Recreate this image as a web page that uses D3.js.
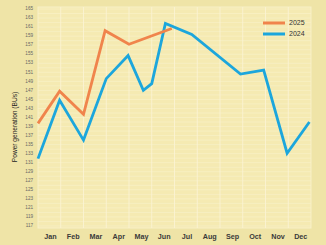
<!DOCTYPE html>
<html>
<head>
<meta charset="utf-8">
<script src="https://cdn.jsdelivr.net/npm/d3@7"></script>
<style>
  body { margin: 0; background: #efe4a7; }
  svg { display: block; }
  text { font-family: "Liberation Sans", Arial, sans-serif; }
</style>
</head>
<body>
<script>
// data
var months = ["Jan", "Feb", "Mar", "Apr", "May", "Jun", "Jul", "Aug", "Sep", "Oct", "Nov", "Dec"];
var yTicks = [117, 119, 121, 123, 125, 127, 129, 131, 133, 135, 137, 139, 141, 143, 145, 147, 149, 151, 153, 155, 157, 159, 161, 163, 165];

// x in month units (0 = start of Jan, 12 = end of Dec)
var x2024 = [0, 0.95, 2, 3, 3.96, 4.63, 5, 5.6, 6.76, 8.9, 9.92, 10.95, 11.93];
var v2024 = [131.9, 144.8, 136.0, 149.6, 154.7, 147.0, 148.5, 161.8, 159.4, 150.6, 151.5, 133.1, 140.0];
var x2025 = [0, 0.95, 2, 2.95, 4, 5.88];
var v2025 = [139.7, 146.8, 141.7, 160.2, 157.2, 160.7];

var legend = [["2025", "#f0844c"], ["2024", "#1ca6dc"]];

var width = 326, height = 245;
var margin = { left: 38, right: 15, top: 7, bottom: 17 };
var pw = width - margin.left - margin.right;
var ph = height - margin.top - margin.bottom;

var svg = d3.select("body").append("svg").attr("width", width).attr("height", height);

var x = d3.scaleLinear().domain([0, 12]).range([0, pw]);
var y = d3.scaleLinear().domain([116.55, 165.45]).range([ph, 0]);

var g = svg.append("g").attr("transform", "translate(" + margin.left + "," + margin.top + ")");

g.append("rect").attr("width", pw).attr("height", ph).attr("fill", "#f5eab2")
    .attr("stroke", "#f8f0c8").attr("stroke-width", 1);

// horizontal grid every unit
g.append("g").selectAll("line").data(d3.range(117, 166)).enter().append("line")
    .attr("x1", 0).attr("x2", pw)
    .attr("y1", function (d) { return y(d); }).attr("y2", function (d) { return y(d); })
    .attr("stroke", "#f9f1cb").attr("stroke-width", 0.6);

// vertical grid on month boundaries
g.append("g").selectAll("line").data(d3.range(1, 12)).enter().append("line")
    .attr("x1", function (d) { return x(d); }).attr("x2", function (d) { return x(d); })
    .attr("y1", 0).attr("y2", ph)
    .attr("stroke", "#faf3d2").attr("stroke-width", 0.9);

// y axis labels
g.append("g").selectAll("text").data(yTicks).enter().append("text")
    .attr("x", -5).attr("y", function (d) { return y(d); })
    .attr("text-anchor", "end").attr("dominant-baseline", "middle")
    .attr("font-size", 4.6).attr("fill", "#666")
    .text(function (d) { return d; });

// month labels
g.append("g").selectAll("text").data(months).enter().append("text")
    .attr("x", function (d, i) { return x(i + 0.55); }).attr("y", ph + 11)
    .attr("text-anchor", "middle").attr("font-size", 7.2).attr("font-weight", "bold")
    .attr("fill", "#3a3a3a")
    .text(function (d) { return d; });

svg.append("text")
    .attr("transform", "translate(17," + 127 + ") rotate(-90)")
    .attr("text-anchor", "middle").attr("font-size", 6.6).attr("fill", "#222")
    .text("Power generation (BUs)");

var line = d3.line()
    .x(function (d) { return x(d[0]); })
    .y(function (d) { return y(d[1]); });

g.append("path").datum(d3.zip(x2024, v2024))
    .attr("fill", "none").attr("stroke", legend[1][1]).attr("stroke-width", 2.8)
    .attr("d", line);
g.append("path").datum(d3.zip(x2025, v2025))
    .attr("fill", "none").attr("stroke", legend[0][1]).attr("stroke-width", 2.8)
    .attr("d", line);

// legend
var lg = svg.append("g").attr("transform", "translate(263,23)");
lg.selectAll("line").data(legend).enter().append("line")
    .attr("x1", 0).attr("x2", 22)
    .attr("y1", function (d, i) { return i * 11; }).attr("y2", function (d, i) { return i * 11; })
    .attr("stroke", function (d) { return d[1]; }).attr("stroke-width", 3);
lg.selectAll("text").data(legend).enter().append("text")
    .attr("x", 26).attr("y", function (d, i) { return i * 11; })
    .attr("dominant-baseline", "middle").attr("font-size", 7).attr("fill", "#333")
    .text(function (d) { return d[0]; });
</script>
</body>
</html>
